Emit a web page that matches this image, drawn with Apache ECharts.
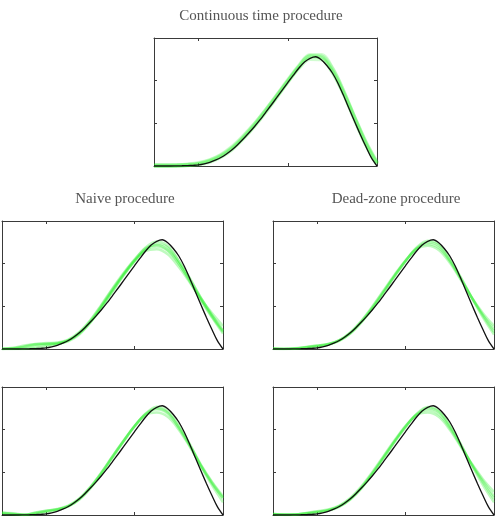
<!DOCTYPE html>
<html>
<head>
<meta charset="utf-8">
<script src="https://cdn.jsdelivr.net/npm/echarts@6/dist/echarts.min.js"></script>
<style>
html, body { margin: 0; padding: 0; background: #fff; }
#main { width: 498px; height: 521px; }
</style>
</head>
<body>
<div id="main"></div>
<script>
// sample positions along the horizontal axis (0 = left edge, 1 = right edge)
var xs = [0, 0.05, 0.1, 0.15, 0.2, 0.25, 0.3, 0.35, 0.4, 0.45, 0.5, 0.55, 0.6, 0.65, 0.7, 0.75, 0.8, 0.85, 0.9, 0.95, 1];

// true curve (black), same in every panel, read at finer steps
var trueX = [0, 0.025, 0.05, 0.075, 0.1, 0.125, 0.15, 0.175, 0.2, 0.225, 0.25, 0.275, 0.3, 0.325, 0.35, 0.375, 0.4, 0.425, 0.45, 0.475, 0.5,
             0.525, 0.55, 0.575, 0.6, 0.625, 0.65, 0.675, 0.7, 0.725, 0.75, 0.775, 0.8, 0.825, 0.85, 0.875, 0.9, 0.925, 0.95, 0.975, 1];
var trueY = [0, 0, 0, 0, 0.0015, 0.003, 0.005, 0.008, 0.012, 0.024, 0.042, 0.068, 0.099, 0.14, 0.19, 0.25, 0.316, 0.386, 0.46, 0.54, 0.625,
             0.712, 0.80, 0.89, 0.978, 1.065, 1.148, 1.218, 1.262, 1.28, 1.245, 1.178, 1.09, 0.97, 0.825, 0.67, 0.518, 0.37, 0.228, 0.095, 0];

// estimates (green), one list per run
var contRuns = [
  [0.003, 0.004, 0.006, 0.012, 0.025, 0.058, 0.115, 0.205, 0.33, 0.475, 0.64, 0.815, 0.995, 1.165, 1.29, 1.285, 1.135, 0.87, 0.565, 0.27, 0.035],
  [0.008, 0.008, 0.01, 0.018, 0.035, 0.07, 0.13, 0.225, 0.35, 0.49, 0.65, 0.82, 0.99, 1.15, 1.255, 1.25, 1.1, 0.85, 0.56, 0.28, 0.04],
  [0.002, 0.002, 0.004, 0.009, 0.02, 0.05, 0.105, 0.195, 0.32, 0.465, 0.63, 0.805, 0.985, 1.16, 1.285, 1.27, 1.115, 0.85, 0.54, 0.25, 0.02],
  [0.005, 0.005, 0.007, 0.013, 0.028, 0.062, 0.122, 0.212, 0.338, 0.485, 0.652, 0.828, 1.005, 1.175, 1.3, 1.3, 1.145, 0.875, 0.56, 0.26, 0.025]
];
var naiveRuns = [
  [0, 0.005, 0.025, 0.05, 0.062, 0.07, 0.1, 0.18, 0.31, 0.48, 0.67, 0.86, 1.04, 1.19, 1.26, 1.21, 1.03, 0.83, 0.6, 0.4, 0.22],
  [0, 0.01, 0.03, 0.06, 0.07, 0.075, 0.11, 0.2, 0.34, 0.52, 0.71, 0.89, 1.04, 1.15, 1.17, 1.11, 0.96, 0.78, 0.59, 0.42, 0.27],
  [0, 0, 0.005, 0.03, 0.05, 0.06, 0.09, 0.17, 0.31, 0.49, 0.68, 0.87, 1.03, 1.16, 1.2, 1.15, 1.0, 0.8, 0.58, 0.38, 0.2],
  [0, 0.015, 0.04, 0.055, 0.06, 0.065, 0.1, 0.19, 0.33, 0.51, 0.7, 0.88, 1.05, 1.18, 1.22, 1.16, 1.0, 0.79, 0.57, 0.37, 0.18],
  [0, 0, 0, 0.01, 0.03, 0.055, 0.1, 0.185, 0.32, 0.5, 0.69, 0.87, 1.03, 1.17, 1.23, 1.19, 1.03, 0.82, 0.6, 0.39, 0.21]
];
var deadRuns = [
  [0.01, 0.003, 0.005, 0.02, 0.035, 0.055, 0.1, 0.185, 0.315, 0.48, 0.665, 0.855, 1.03, 1.18, 1.25, 1.21, 1.04, 0.83, 0.6, 0.39, 0.2],
  [0.005, 0, 0.008, 0.025, 0.04, 0.06, 0.105, 0.195, 0.33, 0.5, 0.685, 0.87, 1.04, 1.17, 1.21, 1.16, 1.01, 0.81, 0.6, 0.42, 0.27],
  [0, 0, 0.003, 0.015, 0.03, 0.05, 0.095, 0.18, 0.31, 0.475, 0.66, 0.85, 1.03, 1.19, 1.27, 1.23, 1.06, 0.84, 0.6, 0.37, 0.17],
  [0.003, 0.001, 0.006, 0.02, 0.038, 0.058, 0.1, 0.19, 0.325, 0.49, 0.675, 0.86, 1.035, 1.175, 1.23, 1.185, 1.03, 0.82, 0.6, 0.4, 0.23]
];
var lowLeftRuns = [
  [0.03, 0.01, 0.005, 0.02, 0.045, 0.065, 0.1, 0.18, 0.31, 0.48, 0.67, 0.86, 1.04, 1.19, 1.27, 1.22, 1.05, 0.83, 0.58, 0.37, 0.2],
  [0.02, 0.015, 0, 0.03, 0.05, 0.07, 0.11, 0.195, 0.33, 0.5, 0.69, 0.87, 1.04, 1.17, 1.2, 1.15, 1.0, 0.8, 0.58, 0.38, 0.2],
  [0.01, 0.005, 0, 0.01, 0.035, 0.06, 0.1, 0.185, 0.32, 0.49, 0.68, 0.865, 1.04, 1.18, 1.24, 1.19, 1.02, 0.81, 0.57, 0.35, 0.15],
  [0.025, 0.02, 0.002, 0.025, 0.05, 0.068, 0.105, 0.19, 0.325, 0.495, 0.685, 0.87, 1.045, 1.185, 1.25, 1.2, 1.03, 0.82, 0.59, 0.39, 0.22]
];
var lowRightRuns = [
  [0.015, 0.005, 0.005, 0.02, 0.035, 0.055, 0.1, 0.185, 0.315, 0.485, 0.67, 0.86, 1.035, 1.18, 1.255, 1.21, 1.04, 0.82, 0.59, 0.38, 0.19],
  [0.01, 0.008, 0.008, 0.025, 0.045, 0.065, 0.11, 0.2, 0.335, 0.505, 0.69, 0.875, 1.045, 1.17, 1.2, 1.15, 1.0, 0.8, 0.6, 0.42, 0.27],
  [0.005, 0, 0.003, 0.015, 0.03, 0.05, 0.095, 0.18, 0.31, 0.48, 0.665, 0.855, 1.03, 1.185, 1.265, 1.22, 1.05, 0.83, 0.58, 0.35, 0.15],
  [0.012, 0.004, 0.006, 0.022, 0.04, 0.06, 0.105, 0.19, 0.325, 0.495, 0.68, 0.865, 1.04, 1.175, 1.23, 1.18, 1.02, 0.81, 0.59, 0.4, 0.22]
];

var xTicks = [0.2, 0.6];
var yMax = 1.5;

// panel boxes in pixels
var panels = [
  { left: 154, top: 38, width: 223, height: 128, runs: contRuns, w: 4, op: 0.22 },
  { left: 2, top: 221, width: 221, height: 128, runs: naiveRuns, w: 2.5, op: 0.3 },
  { left: 273, top: 221, width: 221, height: 128, runs: deadRuns, w: 2.5, op: 0.3 },
  { left: 2, top: 387, width: 221, height: 128, runs: lowLeftRuns, w: 2.5, op: 0.3 },
  { left: 273, top: 387, width: 221, height: 128, runs: lowRightRuns, w: 2.5, op: 0.3 }
];

var titles = [
  { text: 'Continuous time procedure', x: 261, y: 16 },
  { text: 'Naive procedure', x: 125, y: 199 },
  { text: 'Dead-zone procedure', x: 396, y: 199 }
];

function pairs(xv, yv) {
  var out = [];
  for (var i = 0; i < xv.length; i++) out.push([xv[i], yv[i]]);
  return out;
}

var frame = '#3a3a3a';
var grid = [], xAxis = [], yAxis = [], series = [];

panels.forEach(function (p, k) {
  grid.push({ left: p.left, top: p.top, width: p.width, height: p.height, containLabel: false });
  ['bottom', 'top'].forEach(function (pos) {
    xAxis.push({
      type: 'value', gridIndex: k, position: pos, min: 0, max: 1,
      axisLine: { show: true, onZero: false, lineStyle: { color: frame, width: 1 } },
      axisTick: { show: true, inside: true, length: 3, customValues: xTicks, lineStyle: { color: frame } },
      axisLabel: { show: false }, splitLine: { show: false }
    });
  });
  ['left', 'right'].forEach(function (pos) {
    yAxis.push({
      type: 'value', gridIndex: k, position: pos, min: 0, max: yMax, interval: 0.5,
      axisLine: { show: true, onZero: false, lineStyle: { color: frame, width: 1 } },
      axisTick: { show: true, inside: true, length: 3, lineStyle: { color: frame } },
      axisLabel: { show: false }, splitLine: { show: false }
    });
  });
  p.runs.forEach(function (r) {
    series.push({
      type: 'line', xAxisIndex: 2 * k, yAxisIndex: 2 * k, data: pairs(xs, r),
      smooth: 0.35, symbol: 'none', silent: true,
      lineStyle: { color: '#2cf02c', width: p.w, opacity: p.op }
    });
  });
  series.push({
    type: 'line', xAxisIndex: 2 * k, yAxisIndex: 2 * k, data: pairs(trueX, trueY),
    smooth: 0.3, symbol: 'none', silent: true,
    lineStyle: { color: '#111', width: 1.3 }
  });
});

var chart = echarts.init(document.getElementById('main'));
chart.setOption({
  animation: false,
  grid: grid,
  xAxis: xAxis,
  yAxis: yAxis,
  series: series,
  graphic: titles.map(function (t) {
    return {
      type: 'text', x: t.x, y: t.y,
      style: {
        text: t.text, fill: '#555', font: '15px "Liberation Serif", serif',
        align: 'center', verticalAlign: 'middle', textAlign: 'center', textVerticalAlign: 'middle'
      }
    };
  })
});
</script>
</body>
</html>
